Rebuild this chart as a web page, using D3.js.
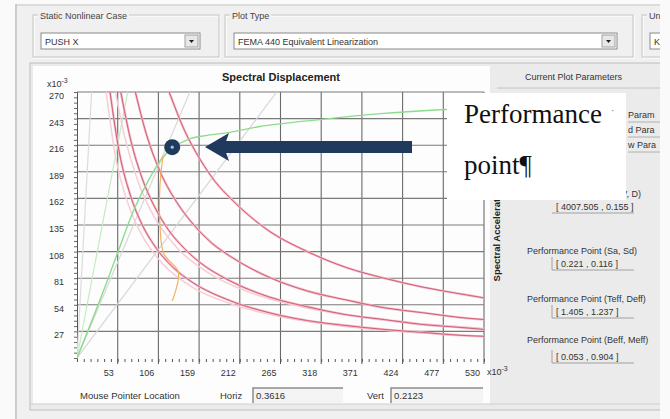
<!DOCTYPE html>
<html>
<head>
<meta charset="utf-8">
<script src="https://cdn.jsdelivr.net/npm/d3@7"></script>
<style>
body { margin: 0; background: #f0f0f0; }
svg { display: block; }
text { font-family: "Liberation Sans", Arial, sans-serif; }
text.serif { font-family: "Liberation Serif", "DejaVu Serif", serif; }
</style>
</head>
<body>
<div id="chart"></div>
<script>
const w = 670;
const h = 419;

// axis ticks (x10^-3)
const xTicks = [53, 106, 159, 212, 265, 318, 371, 424, 477, 530];
const yTicks = [27, 54, 81, 108, 135, 162, 189, 216, 243, 270];

// demand spectra, [Sd, Sa] in x10^-3
const demand1 = [[120, 270], [140, 231], [160, 202], [180, 179], [200, 162], [250, 129], [300, 108], [350, 92], [400, 81], [450, 72], [500, 65], [530, 61]];
const demand2 = [[76, 270], [90, 228], [110, 186], [130, 158], [150, 137], [175, 117], [200, 103], [250, 82], [300, 68], [350, 59], [400, 51], [450, 46], [500, 41], [530, 39]];
const demand3 = [[57, 270], [70, 221], [85, 182], [100, 155], [120, 129], [140, 111], [160, 97], [200, 78], [250, 62], [300, 52], [350, 44], [400, 39], [450, 34], [500, 31], [530, 29]];
const demand4 = [[43, 270], [55, 209], [70, 164], [85, 135], [100, 115], [125, 92], [150, 77], [200, 58], [250, 46], [300, 38], [350, 33], [400, 29], [450, 26], [500, 23], [530, 22]];
const demandLight1 = [[50, 270], [62, 225], [80, 178], [100, 144], [130, 112], [170, 87], [220, 68], [280, 54], [350, 44], [430, 36], [530, 30]];
const demandLight2 = [[38, 270], [50, 205], [65, 160], [85, 124], [110, 97], [150, 72], [200, 55], [270, 41], [350, 32], [440, 26], [530, 22]];

// capacity curve
const capacity = [[0, 0], [30, 59], [53, 107], [75, 152], [95, 183], [110, 202], [124, 213], [145, 222], [170, 226], [199, 229], [238, 235], [316, 242], [395, 248], [473, 252], [530, 254]];

// locus of performance points
const locus = [[124, 58], [132, 87], [113, 106], [108, 135], [108, 175], [112, 205]];

// constant period lines (end points, start at origin)
const periodEnds = [[19, 270], [66, 270], [147, 270], [260, 270]];
const periodColors = ["#dcdcdc", "#c4ebc4", "#d8d8d8", "#d6d6d6"];

const perfPoint = [124, 214];

// right panel values
const paramLabels = ["Performance Point (Sa, Sd)", "Performance Point (Teff, Deff)", "Performance Point (Beff, Meff)"];
const paramValues = ["[ 0.221 , 0.116 ]", "[ 1.405 , 1.237 ]", "[ 0.053 , 0.904 ]"];

let svg = d3.select("#chart").append("svg")
    .attr("width", w)
    .attr("height", h);

// dialog background
svg.append("rect").attr("width", w).attr("height", h).attr("fill", "#f0f0f0");
svg.append("rect").attr("x", 0).attr("y", 0).attr("width", 15).attr("height", h).attr("fill", "#fafafa");
svg.append("rect").attr("x", 0).attr("y", 0).attr("width", w).attr("height", 4).attr("fill", "#fafafa");
svg.append("line").attr("x1", 16).attr("x2", 16).attr("y1", 4).attr("y2", h).attr("stroke", "#a8a8a8");
svg.append("line").attr("x1", 16).attr("x2", 670).attr("y1", 5).attr("y2", 5).attr("stroke", "#c8c8c8");

function groupBox(x, y, bw, bh, label) {
    svg.append("rect").attr("x", x + 1).attr("y", y + 1).attr("width", bw).attr("height", bh)
        .attr("fill", "none").attr("stroke", "#ffffff");
    svg.append("rect").attr("x", x).attr("y", y).attr("width", bw).attr("height", bh)
        .attr("fill", "none").attr("stroke", "#c4c4c4");
    if (label) {
        let t = svg.append("text").attr("x", x + 7).attr("y", y + 4)
            .attr("font-size", 9).attr("fill", "#444").text(label);
        let bb = t.node().getBBox();
        svg.insert("rect", () => t.node()).attr("x", bb.x - 2).attr("y", bb.y).attr("width", bb.width + 4)
            .attr("height", bb.height).attr("fill", "#f0f0f0");
    }
}

function combo(x, y, bw, label, button) {
    svg.append("rect").attr("x", x).attr("y", y).attr("width", bw).attr("height", 16)
        .attr("fill", "#fff").attr("stroke", "#8a8a8a");
    svg.append("text").attr("x", x + 4).attr("y", y + 12).attr("font-size", 9).attr("fill", "#333").text(label);
    if (!button) return;
    svg.append("rect").attr("x", x + bw - 15).attr("y", y + 2).attr("width", 13).attr("height", 12)
        .attr("fill", "#e8e8e8").attr("stroke", "#a0a0a0");
    svg.append("path")
        .attr("d", `M${x + bw - 11},${y + 7}l5,0l-2.5,3z`)
        .attr("fill", "#222");
}

groupBox(33, 15, 186, 42, "Static Nonlinear Case");
groupBox(225, 15, 408, 42, "Plot Type");
groupBox(642, 15, 40, 42, "Uni");
combo(41, 33, 159, "PUSH X", true);
combo(234, 33, 383, "FEMA 440 Equivalent Linearization", true);
combo(650, 33, 30, "KN", false);

// chart frame
svg.append("rect").attr("x", 30).attr("y", 63).attr("width", 640).attr("height", 347)
    .attr("fill", "#ebebeb").attr("stroke", "#bdbdbd");
svg.append("rect").attr("x", 33).attr("y", 66).attr("width", 457).attr("height", 338)
    .attr("fill", "#fdfdfd");
svg.append("line").attr("x1", 30).attr("x2", 670).attr("y1", 404).attr("y2", 404).attr("stroke", "#cfcfcf");

let xScale = d3.scaleLinear().domain([0, 530]).range([77, 484]);
let yScale = d3.scaleLinear().domain([0, 270]).range([358, 92]);

svg.append("text").attr("x", 281).attr("y", 81).attr("text-anchor", "middle")
    .attr("font-size", 11).attr("font-weight", "bold").attr("fill", "#222").text("Spectral Displacement");

// clip for the curves
svg.append("clipPath").attr("id", "plotClip").append("rect")
    .attr("x", 77).attr("y", 92).attr("width", 407).attr("height", 266);

// gridlines
let grid = svg.append("g");
grid.selectAll(".vg").data(xTicks).enter().append("line")
    .attr("x1", d => xScale(d)).attr("x2", d => xScale(d))
    .attr("y1", yScale(270)).attr("y2", yScale(0))
    .attr("stroke", "#6a6a6a").attr("stroke-width", 1.1);
grid.selectAll(".hg").data(yTicks).enter().append("line")
    .attr("x1", xScale(0)).attr("x2", xScale(530))
    .attr("y1", d => yScale(d)).attr("y2", d => yScale(d))
    .attr("stroke", "#7a7a7a").attr("stroke-width", 1.1);

// y axis
let yAxis = svg.append("g")
    .attr("transform", "translate(" + xScale(0) + ",0)")
    .call(d3.axisLeft(yScale).tickValues(d3.range(0, 271, 5.4)).tickSize(3).tickFormat(""));
yAxis.select(".domain").attr("stroke", "#555");
yAxis.selectAll(".tick line").attr("stroke", "#666");
svg.append("g").selectAll("text").data(yTicks).enter().append("text")
    .attr("x", 64).attr("y", d => yScale(d) + 7)
    .attr("text-anchor", "end").attr("font-size", 9).attr("fill", "#333")
    .text(d => d);

// x axis
let xAxis = svg.append("g")
    .attr("transform", "translate(0," + (yScale(0) + 1) + ")")
    .call(d3.axisBottom(xScale).tickValues(d3.range(0, 531, 53 / 6)).tickSize(3).tickFormat(""));
xAxis.select(".domain").remove();
xAxis.selectAll(".tick line").attr("stroke", "#555");
svg.append("g").selectAll("line").data(xTicks).enter().append("line")
    .attr("x1", d => xScale(d)).attr("x2", d => xScale(d))
    .attr("y1", yScale(0)).attr("y2", yScale(0) + 6)
    .attr("stroke", "#555");
svg.append("g").selectAll("text").data(xTicks).enter().append("text")
    .attr("x", d => xScale(d) - 4).attr("y", 376)
    .attr("text-anchor", "end").attr("font-size", 9).attr("fill", "#333")
    .text(d => d);

function tenPow(x, y) {
    let t = svg.append("text").attr("x", x).attr("y", y).attr("font-size", 9).attr("fill", "#333");
    t.append("tspan").text("x10");
    t.append("tspan").attr("dy", -4).attr("font-size", 7).text("-3");
}
tenPow(47, 87);
tenPow(487, 375);

// curves
let lineFunction = d3.line()
    .x(d => xScale(d[0]))
    .y(d => yScale(d[1]))
    .curve(d3.curveMonotoneX);
let smooth = d3.line()
    .x(d => xScale(d[0]))
    .y(d => yScale(d[1]))
    .curve(d3.curveCatmullRom);
let radial = d3.line()
    .x(d => xScale(d[0]))
    .y(d => yScale(d[1]));

let curves = svg.append("g").attr("clip-path", "url(#plotClip)");

curves.selectAll(".period").data(periodEnds).enter().append("path")
    .attr("d", d => radial([[0, 0], d]))
    .attr("stroke", (d, i) => periodColors[i])
    .attr("stroke-width", 1.2)
    .attr("fill", "none");

[demandLight1, demandLight2].forEach(c => {
    curves.append("path").attr("d", lineFunction(c))
        .attr("stroke", "#f7cdd6").attr("stroke-width", 1.5).attr("fill", "none");
});
[demand1, demand2, demand3, demand4].forEach(c => {
    curves.append("path").attr("d", lineFunction(c))
        .attr("stroke", "#f4bcc8").attr("stroke-width", 2.4).attr("fill", "none");
    curves.append("path").attr("d", lineFunction(c))
        .attr("stroke", "#c9566f").attr("stroke-width", 0.9).attr("fill", "none");
});

curves.append("path").attr("d", smooth(capacity))
    .attr("stroke", "#8ddc8d").attr("stroke-width", 1.4).attr("fill", "none");

curves.append("path").attr("d", smooth(locus))
    .attr("stroke", "#f3b060").attr("stroke-width", 1.2).attr("fill", "none");

// right panel
svg.append("text").attr("x", 525).attr("y", 80).attr("font-size", 9).attr("fill", "#333").text("Current Plot Parameters");
svg.append("line").attr("x1", 497).attr("x2", 670).attr("y1", 88).attr("y2", 88).attr("stroke", "#c4c4c4");

let pg = svg.append("g");

["Param", "d Para", "w Para"].forEach((t, i) => {
    pg.append("text").attr("x", 628).attr("y", 118 + i * 15).attr("font-size", 9).attr("fill", "#333").text(t);
    pg.append("line").attr("x1", 628).attr("x2", 660).attr("y1", 122 + i * 15).attr("y2", 122 + i * 15)
        .attr("stroke", "#b0b0b0");
});
pg.append("text").attr("x", 641).attr("y", 197).attr("text-anchor", "end")
    .attr("font-size", 9).attr("fill", "#333").text("Performance Point (V, D)");
pg.append("text").attr("x", 556).attr("y", 210).attr("font-size", 9).attr("fill", "#333").text("[ 4007.505 , 0.155 ]");
pg.append("line").attr("x1", 552).attr("x2", 634).attr("y1", 213).attr("y2", 213).attr("stroke", "#a0a0a0");

pg.append("text")
    .attr("transform", "translate(500,233) rotate(-90)")
    .attr("text-anchor", "middle").attr("font-size", 9.5).attr("font-weight", "bold").attr("fill", "#222")
    .text("Spectral Acceleration");

const rowY = [254, 302, 343];
const valY = [267, 315, 360];
paramLabels.forEach((t, i) => {
    pg.append("text").attr("x", 527).attr("y", rowY[i]).attr("font-size", 9).attr("fill", "#333").text(t);
    pg.append("text").attr("x", 556).attr("y", valY[i]).attr("font-size", 9).attr("fill", "#333").text(paramValues[i]);
    pg.append("line").attr("x1", 552).attr("x2", 634).attr("y1", valY[i] + 3).attr("y2", valY[i] + 3).attr("stroke", "#a0a0a0");
    pg.append("line").attr("x1", 552).attr("x2", 552).attr("y1", valY[i] - 10).attr("y2", valY[i] + 3).attr("stroke", "#a0a0a0");
});

// right edge of the screenshot
svg.append("rect").attr("x", 660).attr("y", 0).attr("width", 10).attr("height", h).attr("fill", "#fafafa");

// mouse pointer row
svg.append("text").attr("x", 80).attr("y", 399).attr("font-size", 9.5).attr("fill", "#333").text("Mouse Pointer Location");
svg.append("text").attr("x", 220).attr("y", 399).attr("font-size", 9.5).attr("fill", "#333").text("Horiz");
svg.append("text").attr("x", 367).attr("y", 399).attr("font-size", 9.5).attr("fill", "#333").text("Vert");
function readout(x, x2, label) {
    svg.append("rect").attr("x", x).attr("y", 388).attr("width", x2 - x).attr("height", 15).attr("fill", "#f4f4f4");
    svg.append("path").attr("d", `M${x},403V388H${x2}`).attr("stroke", "#8c8c8c").attr("stroke-width", 1.5).attr("fill", "none");
    svg.append("text").attr("x", x + 3).attr("y", 399).attr("font-size", 9.5).attr("fill", "#333").text(label);
}
readout(253, 343, "0.3616");
readout(391, 483, "0.2123");

// annotation: white text box, arrow and marker
svg.append("rect").attr("x", 447).attr("y", 93).attr("width", 179).attr("height", 107).attr("fill", "#ffffff");
svg.append("text").attr("class", "serif").attr("x", 464).attr("y", 123)
    .attr("font-size", 27).attr("fill", "#111")
    .text("Performance");
svg.append("text").attr("x", 611).attr("y", 114).attr("font-size", 10).attr("fill", "#777").text("·");
svg.append("text").attr("class", "serif").attr("x", 464).attr("y", 174)
    .attr("font-size", 27).attr("fill", "#111")
    .text("point¶");

const arrowColor = "#1f3a5c";
svg.append("rect").attr("x", 222).attr("y", 141).attr("width", 190).attr("height", 12).attr("fill", arrowColor);
svg.append("path").attr("d", "M205,147L229,133L224,147L229,161Z").attr("fill", arrowColor);

svg.append("circle").attr("cx", xScale(perfPoint[0])).attr("cy", yScale(perfPoint[1])).attr("r", 8).attr("fill", arrowColor);
svg.append("circle").attr("cx", xScale(perfPoint[0])).attr("cy", yScale(perfPoint[1])).attr("r", 1.6).attr("fill", "#9cc4e8");
</script>
</body>
</html>
